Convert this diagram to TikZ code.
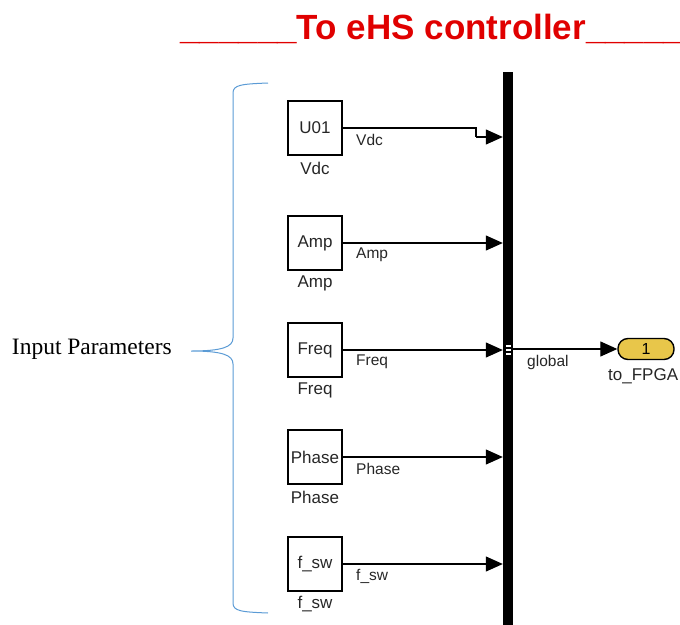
\documentclass[tikz,border=0pt]{standalone}
\usepackage{fontspec}
\setmainfont{Liberation Sans}
\newfontfamily\seriffam{Liberation Serif}
\usetikzlibrary{arrows.meta}
\definecolor{bracecol}{HTML}{5B9BD5}
\definecolor{portyellow}{HTML}{E8C64A}
\definecolor{titlered}{HTML}{E00000}
\begin{document}
\begin{tikzpicture}[x=1pt,y=-1pt,
  blk/.style={draw, line width=1.4pt, minimum width=54pt, minimum height=54pt,
    inner sep=0pt, font=\fontsize{17}{19}\selectfont, text=black!85},
  blkname/.style={font=\fontsize{17}{19}\selectfont, text=black!85, inner sep=0pt},
  siglbl/.style={font=\fontsize{15.5}{17}\selectfont, text=black!85, inner sep=0pt, anchor=west},
  sig/.style={line width=1.2pt, -{Triangle[length=17pt,width=15pt]}},
]
\useasboundingbox (0,0) rectangle (680,624);

% title
\node[anchor=base west, text=titlered, inner sep=0pt,
  font=\bfseries\fontsize{35}{40}\selectfont] (title) at (180,39)
  {\_\_\_\_\_\_To eHS controller\_\_\_\_\_};

% bus bar
\node[fill=black, minimum width=10pt, minimum height=570pt, inner sep=0pt,
  anchor=north] (bus) at (508,72) {};

% source blocks and their names
\node[blk] (u01)  at (315,128) {U01};
\node[blk] (amp)  at (315,243) {Amp};
\node[blk] (freq) at (315,350) {Freq};
\node[blk] (phase) at (315,457) {Phase};
\node[blk] (fsw)  at (315,564) {f\_sw};

\node[blkname] (n1) at (315,168) {Vdc};
\node[blkname] (n2) at (315,283) {Amp};
\node[blkname] (n3) at (315,390) {Freq};
\node[blkname] (n4) at (315,497) {Phase};
\node[blkname] (n5) at (315,604) {f\_sw};

% signals into the bus
\coordinate (jog) at (476,137);
\draw[line width=1.2pt] (u01.east) -| (jog);
\draw[sig] (jog) -- (jog -| bus.west);
\draw[sig] (amp.east) -- (amp.east -| bus.west);
\draw[sig] (freq.east) -- (freq.east -| bus.west);
\draw[sig] (phase.east) -- (phase.east -| bus.west);
\draw[sig] (fsw.east) -- (fsw.east -| bus.west);

\node[siglbl] (s1) at (356,140) {Vdc};
\node[siglbl] (s2) at (356,255) {Amp};
\node[siglbl] (s3) at (356,362) {Freq};
\node[siglbl] (s4) at (356,469) {Phase};
\node[siglbl] (s5) at (356,576) {f\_sw};

% bus output port marks
\foreach \yy in {344.5,348.5,352.5}
  \fill[white] (505.5,\yy) rectangle (511,\yy+2.5);

% output port
\node[draw, fill=portyellow, line width=1.4pt, rounded corners=10pt,
  minimum width=56pt, minimum height=21pt, inner sep=0pt,
  font=\fontsize{16}{18}\selectfont] (port) at (646,349) {1};
\draw[sig] (bus.east |- port.west) -- (port.west);
\node[siglbl] (glob) at (527,362) {global};
\node[blkname, anchor=west] (fpga) at (608,376) {to\_FPGA};

% brace grouping the inputs
\draw[bracecol, line width=1pt]
  (268,83) .. controls (241,84) and (233,85) .. (233,93)
  -- (233,338) .. controls (233,347) and (222,351) .. (191,351)
  .. controls (222,351) and (233,355) .. (233,364)
  -- (233,603) .. controls (233,611) and (241,612) .. (268,613);
\node[anchor=east, inner sep=0pt, font=\seriffam\fontsize{23.5}{26}\selectfont]
  (inp) at (172,349) {Input Parameters};
\end{tikzpicture}
\end{document}
